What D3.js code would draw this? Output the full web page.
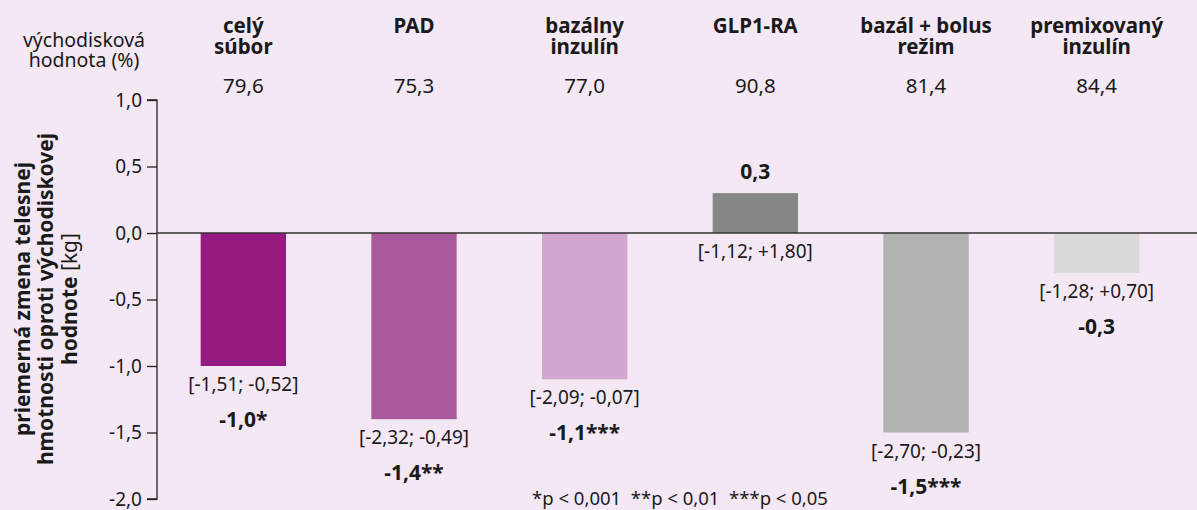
<!DOCTYPE html>
<html>
<head>
<meta charset="utf-8">
<script src="https://cdn.jsdelivr.net/npm/d3@7.9.0/dist/d3.min.js"></script>
<style>
  html, body { margin: 0; padding: 0; background: #f3e8f4; }
  svg { display: block; font-family: "Noto Sans", "Open Sans", sans-serif; }
</style>
</head>
<body>
<svg width="1197" height="510"></svg>
<script>
// data
const categories = [["celý", "súbor"], ["PAD"], ["bazálny", "inzulín"], ["GLP1-RA"], ["bazál + bolus", "režim"], ["premixovaný", "inzulín"]];
const baseline = ["79,6", "75,3", "77,0", "90,8", "81,4", "84,4"];
const values = [-1.0, -1.4, -1.1, 0.3, -1.5, -0.3];
const valueLabels = ["-1,0*", "-1,4**", "-1,1***", "0,3", "-1,5***", "-0,3"];
const ciLabels = ["[-1,51; -0,52]", "[-2,32; -0,49]", "[-2,09; -0,07]", "[-1,12; +1,80]", "[-2,70; -0,23]", "[-1,28; +0,70]"];
const colors = ["#961b80", "#aa5a9c", "#d2a7d1", "#878787", "#b1b1b1", "#dadada"];
const yTicks = [1.0, 0.5, 0.0, -0.5, -1.0, -1.5, -2.0];

const svg = d3.select("svg");
const axisX = 157;
const ink = "#1a1a1a";

let x = d3.scaleBand()
  .domain(d3.range(categories.length))
  .range([158, 1182])
  .paddingInner(0.5)
  .paddingOuter(0.25);

let y = d3.scaleLinear().domain([-2, 1]).range([499, 100]);

const fmt = d => d3.format(".1f")(d).replace(".", ",").replace("−", "-");

// y axis
let yAxis = d3.axisLeft(y).tickValues(yTicks).tickSize(10).tickPadding(5).tickFormat(fmt);
let ga = svg.append("g").attr("transform", `translate(${axisX},0)`).call(yAxis);
ga.select(".domain").attr("stroke", "#222").attr("stroke-width", 1.3).attr("d", `M-10,${y(1)}H0V${y(-2)}H-10`);
ga.selectAll(".tick line").attr("stroke", "#222").attr("stroke-width", 1.3);
ga.selectAll(".tick text").attr("fill", ink).style("font-size", "19px")
  .style("font-family", "'Noto Sans', sans-serif");

// bars
svg.selectAll("rect.bar")
  .data(values)
  .join("rect")
  .attr("class", "bar")
  .attr("x", (d, i) => x(i))
  .attr("width", x.bandwidth())
  .attr("y", d => y(Math.max(0, d)))
  .attr("height", d => Math.abs(y(d) - y(0)))
  .attr("fill", (d, i) => colors[i]);

// zero line
svg.append("line")
  .attr("x1", axisX).attr("x2", 1197)
  .attr("y1", y(0)).attr("y2", y(0))
  .attr("stroke", "#333").attr("stroke-width", 1.5);

const cx = i => x(i) + x.bandwidth() / 2;

// category headers
categories.forEach((lines, i) => {
  let t = svg.append("text")
    .attr("x", cx(i)).attr("y", 33)
    .attr("text-anchor", "middle")
    .attr("font-weight", "bold").attr("font-size", 20.5).attr("fill", ink);
  lines.forEach((l, k) => t.append("tspan").attr("x", cx(i)).attr("dy", k === 0 ? 0 : 21).text(l));
});

// baseline row
svg.selectAll("text.base")
  .data(baseline)
  .join("text")
  .attr("class", "base")
  .attr("x", (d, i) => cx(i)).attr("y", 93)
  .attr("text-anchor", "middle").attr("font-size", 20.5).attr("fill", ink)
  .text(d => d);

let bl = svg.append("text").attr("x", 84).attr("y", 47).attr("text-anchor", "middle")
  .attr("font-size", 19.5).attr("fill", ink);
bl.append("tspan").attr("x", 84).text("východisková");
bl.append("tspan").attr("x", 84).attr("dy", 20).text("hodnota (%)");

// CI labels
svg.selectAll("text.ci")
  .data(values)
  .join("text")
  .attr("class", "ci")
  .attr("x", (d, i) => cx(i))
  .attr("y", d => (d < 0 ? y(d) : y(0)) + 25)
  .attr("text-anchor", "middle").attr("font-size", 19).attr("fill", ink)
  .text((d, i) => ciLabels[i]);

// value labels
svg.selectAll("text.val")
  .data(values)
  .join("text")
  .attr("class", "val")
  .attr("x", (d, i) => cx(i))
  .attr("y", d => d < 0 ? y(d) + 61 : y(d) - 14)
  .attr("text-anchor", "middle").attr("font-size", 21).attr("font-weight", "bold").attr("fill", ink)
  .text((d, i) => valueLabels[i]);

// y title
let yt = svg.append("text")
  .attr("transform", "translate(24,299) rotate(-90)")
  .attr("text-anchor", "middle").attr("font-size", 21).attr("font-weight", "bold").attr("fill", ink);
yt.append("tspan").attr("x", 0).attr("y", 6).text("priemerná zmena telesnej");
yt.append("tspan").attr("x", 0).attr("y", 29).text("hmotnosti oproti východiskovej");
yt.append("tspan").attr("x", 0).attr("y", 53).text("hodnote ")
  .append("tspan").attr("font-weight", "normal").text("[kg]");

// footnote
svg.append("text")
  .attr("x", 680).attr("y", 505).attr("text-anchor", "middle")
  .attr("font-size", 18.5).attr("fill", ink).attr("xml:space", "preserve")
  .text("*p < 0,001  **p < 0,01  ***p < 0,05");
</script>
</body>
</html>
